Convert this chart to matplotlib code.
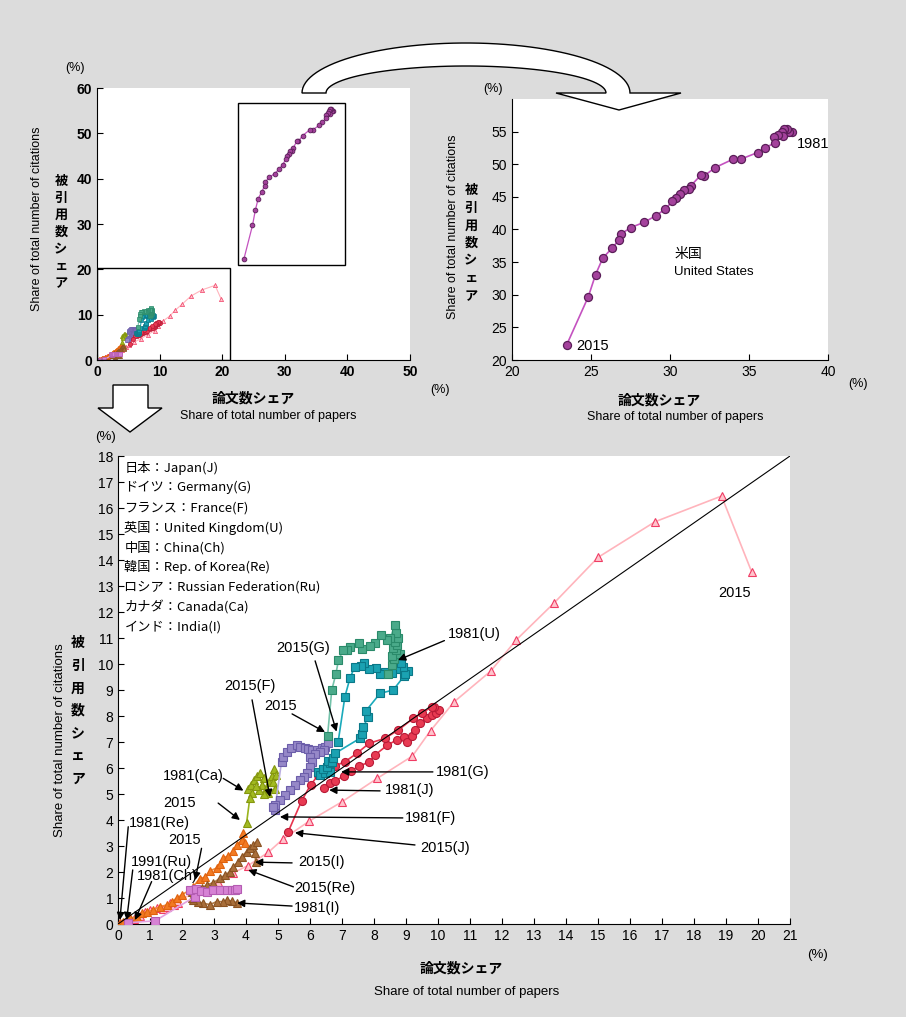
import matplotlib
matplotlib.use('Agg')
import matplotlib.pyplot as plt
from matplotlib.patches import Rectangle, Polygon
import numpy as np

W, H = 906, 1017
plt.rcParams['font.family'] = ['Liberation Sans', 'Noto Sans CJK JP', 'DejaVu Sans']
JP = ['Noto Sans CJK JP', 'DejaVu Sans']
BG = '#dcdcdc'

# ---------------- data (share of papers %, share of citations %) ----------------
us_x = [37.69, 37.54, 37.37, 37.20, 37.05, 37.16, 36.84, 36.57, 36.63, 36.00, 35.54, 34.49, 34.00,
        32.86, 32.15, 31.98, 31.31, 31.22, 30.88, 30.63, 30.36, 30.15, 29.68, 29.10, 28.36, 27.52,
        26.90, 26.78, 26.32, 25.75, 25.30, 24.84, 23.47]
us_y = [55.0, 55.0, 55.4, 55.4, 55.0, 54.3, 54.5, 54.1, 53.3, 52.5, 51.8, 50.8, 50.8,
        49.5, 48.2, 48.4, 46.7, 46.2, 46.1, 45.5, 44.9, 44.3, 43.1, 42.1, 41.1, 40.3,
        39.3, 38.4, 37.1, 35.6, 33.1, 29.7, 22.3]

jp_x = [6.45, 6.63, 6.78, 7.07, 7.28, 7.53, 7.85, 8.03, 8.42, 8.71, 8.94, 9.02, 9.20, 9.28, 9.44,
        9.65, 9.80, 9.95, 10.02, 9.88, 9.80, 9.50, 9.23, 8.76, 8.34, 7.85, 7.46, 7.09, 6.78, 6.54,
        6.26, 6.02, 5.74, 5.32]
jp_y = [5.24, 5.41, 5.51, 5.69, 5.88, 6.08, 6.22, 6.50, 6.88, 7.08, 7.20, 7.01, 7.25, 7.46, 7.72,
        7.91, 8.04, 8.10, 8.25, 8.34, 8.36, 8.10, 7.91, 7.46, 7.14, 6.95, 6.56, 6.24, 6.08, 5.86,
        5.73, 5.35, 4.74, 3.55]

de_x = [6.26, 6.31, 6.47, 6.63, 6.42, 6.52, 6.63, 6.57, 6.68, 6.73, 6.78, 7.56, 7.62, 7.67, 7.82,
        7.75, 8.19, 8.60, 8.95, 9.05, 8.98, 8.90, 8.70, 8.85, 8.55, 8.35, 8.20, 8.05, 7.85, 7.70,
        7.60, 7.40, 7.25, 7.09, 6.88]
de_y = [5.85, 5.75, 5.82, 5.86, 5.95, 6.05, 6.18, 6.28, 6.24, 6.37, 6.56, 7.14, 7.30, 7.59, 7.97,
        8.20, 8.87, 9.00, 9.55, 9.75, 9.62, 9.90, 9.82, 10.02, 9.65, 9.70, 9.62, 9.85, 9.80, 10.02,
        9.92, 9.90, 9.46, 8.74, 7.01]

uk_x = [8.45, 8.55, 8.62, 8.80, 8.55, 8.70, 8.58, 8.72, 8.66, 8.75, 8.69, 8.66, 8.50, 8.40, 8.22,
        8.03, 7.88, 7.62, 7.54, 7.25, 7.15, 7.04, 6.89, 6.81, 6.68, 6.55]
uk_y = [9.60, 9.95, 10.20, 10.40, 10.30, 10.55, 10.62, 10.75, 10.86, 11.00, 11.18, 11.50, 10.99,
        10.92, 11.11, 10.79, 10.69, 10.56, 10.82, 10.67, 10.54, 10.54, 10.15, 9.62, 9.00, 7.25]

fr_x = [4.90, 5.11, 5.17, 5.28, 5.40, 5.58, 5.69, 5.84, 5.95, 6.05, 6.21, 6.37, 6.47, 6.57, 6.45,
        6.31, 6.15, 6.00, 6.05, 6.00, 5.90, 5.80, 5.69, 5.53, 5.38, 5.22, 5.06, 4.90, 4.83]
fr_y = [4.40, 6.24, 6.43, 6.62, 6.78, 6.88, 6.82, 6.76, 6.72, 6.69, 6.69, 6.76, 6.82, 6.95, 6.70,
        6.63, 6.55, 6.44, 6.25, 6.05, 5.80, 5.65, 5.54, 5.35, 5.15, 4.95, 4.77, 4.58, 4.50]

cn_x = [0.05, 0.15, 0.30, 0.50, 0.70, 0.84, 1.00, 1.21, 1.40, 1.52, 1.63, 1.75, 1.89, 1.83, 2.60,
        3.14, 3.60, 4.07, 4.70, 5.15, 5.98, 7.00, 8.10, 9.20, 9.77, 10.50, 11.65, 12.44, 13.63,
        15.00, 16.78, 18.86, 19.80]
cn_y = [0.02, 0.05, 0.10, 0.20, 0.32, 0.47, 0.52, 0.62, 0.58, 0.67, 0.80, 0.72, 0.80, 0.90, 1.28,
        1.63, 1.97, 2.25, 2.76, 3.26, 3.96, 4.70, 5.60, 6.46, 7.44, 8.54, 9.73, 10.92, 12.35,
        14.10, 15.47, 16.46, 13.55]

kr_x = [0.05, 0.17, 0.38, 0.58, 0.74, 0.90, 1.10, 1.31, 1.52, 1.68, 1.83, 1.99, 2.25, 2.35, 2.56,
        2.72, 2.88, 3.08, 3.19, 3.29, 3.45, 3.60, 3.71, 3.87, 3.92, 3.97]
kr_y = [0.03, 0.09, 0.22, 0.28, 0.41, 0.47, 0.54, 0.67, 0.73, 0.86, 0.99, 1.12, 1.31, 1.44, 1.75,
        1.80, 2.05, 2.15, 2.30, 2.55, 2.62, 2.80, 3.05, 3.22, 3.49, 3.10]

in_x = [3.72, 3.55, 3.40, 3.29, 3.08, 2.88, 2.67, 2.51, 2.35, 2.30, 2.40, 2.30, 2.45, 2.61, 2.77,
        2.98, 3.19, 3.34, 3.50, 3.60, 3.76, 3.86, 4.02, 4.13, 4.23, 4.33, 4.28, 4.30]
in_y = [0.82, 0.88, 0.92, 0.86, 0.86, 0.75, 0.79, 0.86, 0.92, 1.00, 1.10, 1.24, 1.32, 1.37, 1.50,
        1.59, 1.76, 1.88, 2.01, 2.20, 2.40, 2.59, 2.78, 2.91, 3.04, 3.17, 2.72, 2.40]

ru_x = [0.30, 1.16, 2.40, 2.25, 2.45, 2.60, 2.77, 2.98, 3.19, 3.40, 3.55, 3.66, 3.72]
ru_y = [0.05, 0.12, 1.05, 1.30, 1.35, 1.28, 1.24, 1.31, 1.31, 1.31, 1.32, 1.31, 1.33]

ca_x = [4.05, 4.15, 4.25, 4.35, 4.45, 4.55, 4.50, 4.62, 4.72, 4.80, 4.88, 4.95, 4.85, 4.90, 4.70,
        4.55, 4.40, 4.30, 4.20, 4.12, 4.02]
ca_y = [5.20, 5.35, 5.55, 5.70, 5.80, 5.60, 5.35, 5.20, 5.45, 5.70, 5.95, 5.75, 5.45, 5.20, 5.05,
        5.00, 5.15, 5.30, 5.05, 4.85, 3.90]

legend_lines = ['日本：Japan(J)', 'ドイツ：Germany(G)', 'フランス：France(F)',
                '英国：United Kingdom(U)', '中国：China(Ch)', '韓国：Rep. of Korea(Re)',
                'ロシア：Russian Federation(Ru)', 'カナダ：Canada(Ca)', 'インド：India(I)']

# (label, text pos, arrow tail, arrow tip) in main-chart data units
labels = [
    ('1981(U)', (10.3, 11.15), (10.2, 10.9), (8.75, 10.15)),
    ('2015(G)', (4.94, 10.62), (6.16, 10.12), (6.83, 7.40)),
    ('2015(F)', (3.31, 9.15), (4.19, 8.62), (4.75, 4.88)),
    ('2015', (4.56, 8.38), (5.44, 8.08), (6.47, 7.38)),
    ('1981(Ca)', (1.41, 5.69), (3.29, 5.60), (3.92, 5.13)),
    ('2015', (1.41, 4.65), (3.13, 4.65), (3.81, 4.00)),
    ('1981(Re)', (0.34, 3.88), (0.32, 3.74), (0.06, 0.15)),
    ('2015', (1.56, 3.23), (2.61, 2.91), (2.41, 1.69)),
    ('1991(Ru)', (0.41, 2.38), (0.46, 2.08), (0.27, 0.15)),
    ('1981(Ch)', (0.59, 1.85), (1.05, 1.63), (0.53, 0.15)),
    ('2015(I)', (5.63, 2.38), (5.44, 2.35), (4.28, 2.38)),
    ('2015(Re)', (5.50, 1.38), (5.48, 1.43), (4.07, 2.08)),
    ('1981(I)', (5.50, 0.62), (5.44, 0.69), (3.72, 0.81)),
    ('1981(G)', (9.94, 5.85), (9.84, 5.85), (6.97, 5.85)),
    ('1981(J)', (8.34, 5.15), (8.19, 5.12), (6.60, 5.15)),
    ('1981(F)', (8.97, 4.08), (8.90, 4.08), (5.06, 4.12)),
    ('2015(J)', (9.44, 2.92), (9.28, 3.04), (5.53, 3.51)),
]

# ---------------- styles ----------------
series = [
    # x, y, marker, size, face, edge, line
    (cn_x, cn_y, '^', 6.0, '#ffc4cc', '#f03c64', '#ffb4bc'),
    (kr_x, kr_y, '^', 6.0, '#f27a22', '#e0620e', '#f08a3a'),
    (in_x, in_y, '^', 6.0, '#a86e3a', '#8a5222', '#b07a46'),
    (ru_x, ru_y, 's', 5.6, '#d682d4', '#b45cb2', '#e2a2e0'),
    (ca_x, ca_y, '^', 6.0, '#a2ba22', '#84960e', '#9ab41e'),
    (fr_x, fr_y, 's', 5.6, '#9688c8', '#6c5eaa', '#b8ace0'),
    (jp_x, jp_y, 'o', 5.8, '#e83a52', '#b81a36', '#e8344e'),
    (de_x, de_y, 's', 5.6, '#1aa2b2', '#0a7888', '#1aaabb'),
    (uk_x, uk_y, 's', 5.6, '#4aaa8a', '#2a8a6a', '#74c2aa'),
]
US_STYLE = ('o', '#a4429c', '#5a1e58', '#c452c0')

fig = plt.figure(figsize=(W / 100, H / 100), dpi=100, facecolor=BG)


def fx(px):
    return px / W


def fy(py):
    return 1 - py / H


def ftext(px, py, s, **kw):
    fig.text(fx(px), fy(py), s, **kw)


# ---------------- main chart ----------------
ax = fig.add_axes([fx(118), fy(924), (790 - 118) / W, (924 - 456) / H])
ax.set_xlim(0, 21)
ax.set_ylim(0, 18)
ax.set_xticks(range(0, 22))
ax.set_yticks(range(0, 19))
for x, y, m, ms, fc, ec, lc in series:
    ax.plot(x, y, '-', color=lc, lw=1.2, marker=m, ms=ms, mfc=fc, mec=ec, mew=0.8, zorder=3)
ax.plot([0, 21], [0, 18], color='black', lw=0.8, zorder=5)
for s in ['top', 'right']:
    ax.spines[s].set_visible(False)
ax.tick_params(direction='in', length=4, labelsize=10)
for i, t in enumerate(legend_lines):
    ax.text(0.2, 17.55 - i * 0.767, t, fontsize=9.5, va='center', ha='left', family=JP)
for lab, tp, tail, tip in labels:
    ax.annotate('', xy=tip, xytext=tail,
                arrowprops=dict(arrowstyle='-|>', color='black', lw=1.0,
                                mutation_scale=11, shrinkA=0, shrinkB=0), zorder=6)
    ax.text(tp[0], tp[1], lab, fontsize=10.5, va='center', ha='left', zorder=7)
ax.text(18.75, 12.73, '2015', fontsize=10.5, va='center', ha='left')

ftext(105, 437, '(%)', fontsize=9.5, ha='center', va='center')
ftext(818, 955, '(%)', fontsize=9.5, ha='center', va='center')
ftext(461, 968, '論文数シェア', fontsize=10, fontweight='bold', ha='center', va='center',
      family=JP)
ftext(467, 992, 'Share of total number of papers', fontsize=9.5, ha='center', va='center')
ftext(60, 740, 'Share of total number of citations', fontsize=9.5, rotation=90,
      ha='center', va='center')
ftext(78, 711, '\n'.join('被引用数シェア'), fontsize=10, fontweight='bold', ha='center',
      va='center', linespacing=1.78, family=JP)

# ---------------- top-left overview ----------------
a1 = fig.add_axes([fx(97), fy(360), (410 - 97) / W, (360 - 88) / H])
a1.set_xlim(0, 50)
a1.set_ylim(0, 60)
a1.set_xticks(range(0, 51, 10))
a1.set_yticks(range(0, 61, 10))
for x, y, m, ms, fc, ec, lc in series:
    a1.plot(x, y, '-', color=lc, lw=0.8, marker=m, ms=3.0, mfc=fc, mec=ec, mew=0.5)
m, fc, ec, lc = US_STYLE
a1.plot(us_x, us_y, '-', color=lc, lw=0.9, marker=m, ms=3.4, mfc=fc, mec=ec, mew=0.6)
a1.add_patch(Rectangle((0, 0), 21.2, 20.3, fill=False, ec='black', lw=1.0, zorder=6))
a1.add_patch(Rectangle((22.5, 21.0), 17.1, 35.6, fill=False, ec='black', lw=1.0, zorder=6))
for s in ['top', 'right']:
    a1.spines[s].set_visible(False)
a1.tick_params(direction='in', length=4, labelsize=10)
for t in a1.get_xticklabels() + a1.get_yticklabels():
    t.set_fontweight('bold')
ftext(75, 68, '(%)', fontsize=9, ha='center', va='center')
ftext(440, 390, '(%)', fontsize=9, ha='center', va='center')
ftext(253, 398, '論文数シェア', fontsize=10, fontweight='bold', ha='center', va='center',
      family=JP)
ftext(268, 416, 'Share of total number of papers', fontsize=9, ha='center', va='center')
ftext(37, 219, 'Share of total number of citations', fontsize=9, rotation=90,
      ha='center', va='center')
ftext(61, 232, '\n'.join('被引用数シェア'), fontsize=9.5, fontweight='bold', ha='center',
      va='center', linespacing=1.28, family=JP)

# ---------------- top-right US ----------------
a2 = fig.add_axes([fx(511.7), fy(360), (828.3 - 511.7) / W, (360 - 99) / H])
a2.set_xlim(20, 40)
a2.set_ylim(20, 60)
a2.set_xticks(range(20, 41, 5))
a2.set_yticks(range(20, 56, 5))
a2.plot(us_x, us_y, '-', color=lc, lw=1.2, marker=m, ms=5.8, mfc=fc, mec=ec, mew=0.9)
for s in ['top', 'right']:
    a2.spines[s].set_visible(False)
a2.tick_params(direction='in', length=4, labelsize=10)
a2.text(38.0, 53.1, '1981', fontsize=10.5, va='center', ha='left')
a2.text(24.1, 22.15, '2015', fontsize=10.5, va='center', ha='left')
a2.text(30.26, 36.3, '米国', fontsize=10, va='center', ha='left', family=JP)
a2.text(30.26, 33.5, 'United States', fontsize=9.5, va='center', ha='left')
ftext(493, 89, '(%)', fontsize=9, ha='center', va='center')
ftext(858, 384, '(%)', fontsize=9, ha='center', va='center')
ftext(659, 400, '論文数シェア', fontsize=10, fontweight='bold', ha='center', va='center',
      family=JP)
ftext(675, 417, 'Share of total number of papers', fontsize=9, ha='center', va='center')
ftext(453, 227, 'Share of total number of citations', fontsize=9, rotation=90,
      ha='center', va='center')
ftext(471, 243, '\n'.join('被引用数シェア'), fontsize=9.5, fontweight='bold', ha='center',
      va='center', linespacing=1.33, family=JP)

# ---------------- big block arrows (figure pixel overlay) ----------------
ov = fig.add_axes([0, 0, 1, 1], facecolor='none')
ov.set_xlim(0, W)
ov.set_ylim(H, 0)
ov.axis('off')
cx, cy = 466, 93
t = np.linspace(np.pi, 0, 60)
outer = [(cx + 164 * np.cos(a), cy - 50 * np.sin(a)) for a in t]
inner = [(cx + 140 * np.cos(a), cy - 27 * np.sin(a)) for a in t[::-1]]
head = [(681, 93), (619, 110), (556, 93)]
ov.add_patch(Polygon(outer + head + inner, closed=True, fc='white', ec='black', lw=1.0))
ov.add_patch(Polygon([(113, 385), (148, 385), (148, 408), (162, 408), (130, 432),
                      (98, 408), (113, 408)], closed=True, fc='white', ec='black', lw=1.0))

fig.savefig('out.png', dpi=100, facecolor=BG)
